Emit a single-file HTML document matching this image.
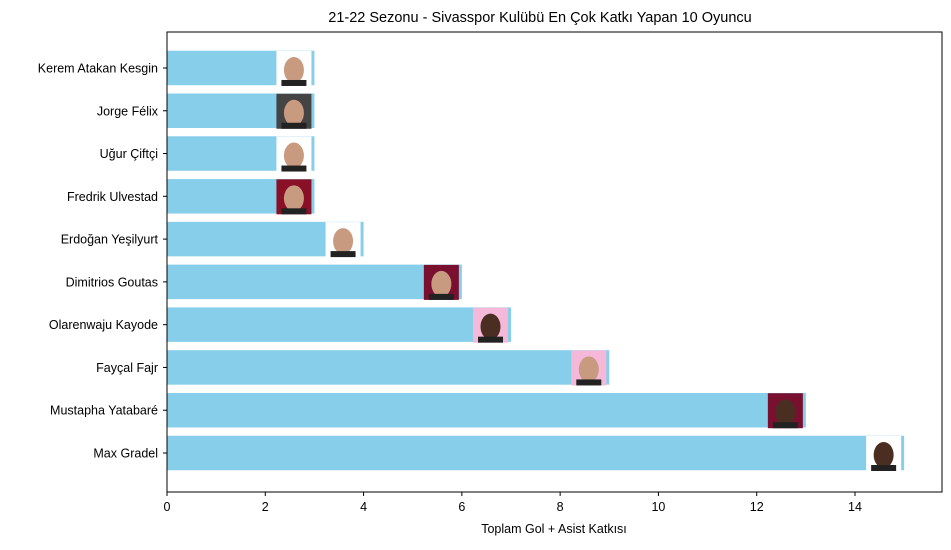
<!DOCTYPE html>
<html><head><meta charset="utf-8"><style>
body{margin:0;background:#fff;}
svg text{font-family:"Liberation Sans","DejaVu Sans",sans-serif;}
</style></head><body>
<svg id="chart" width="951" height="545" xmlns="http://www.w3.org/2000/svg">
<rect width="951" height="545" fill="#fff"/>
<text x="540" y="22" font-size="14.5" text-anchor="middle">21-22 Sezonu - Sivasspor Kulübü En Çok Katkı Yapan 10 Oyuncu</text>
<g id="bars"></g>
<rect x="167" y="32" width="775" height="460" fill="none" stroke="#000" stroke-width="1"/>
<g id="xaxis"></g>
<g id="yaxis"></g>
<text x="554" y="533" font-size="12.5" text-anchor="middle">Toplam Gol + Asist Katkısı</text>
</svg>
<script>
const players = ["Max Gradel","Mustapha Yatabaré","Fayçal Fajr","Olarenwaju Kayode","Dimitrios Goutas","Erdoğan Yeşilyurt","Fredrik Ulvestad","Uğur Çiftçi","Jorge Félix","Kerem Atakan Kesgin"];
const contributions = [15,13,9,7,6,4,3,3,3,3];
const photoBg = ["#fff","#7a1030","#f5b8d8","#f5b8d8","#7a1030","#fff","#8a1028","#fff","#444","#fff"];
const xTicks = [0,2,4,6,8,10,12,14];
const NS="http://www.w3.org/2000/svg";
const x0=167, pxPerUnit=(855-167)/14;
const xs=v=>x0+v*pxPerUnit;
const yc=i=>453-i*42.78;
const bh=34.5;
function el(t,a){const e=document.createElementNS(NS,t);for(const k in a)e.setAttribute(k,a[k]);return e;}
const bars=document.getElementById('bars'), xa=document.getElementById('xaxis'), ya=document.getElementById('yaxis');
players.forEach((p,i)=>{
  const r=el('rect',{x:x0,y:yc(i)-bh/2,width:xs(contributions[i])-x0,height:bh,fill:'#87ceeb'});
  
  
  bars.appendChild(r);
  const px=xs(contributions[i])-38;
  const g=el('g',{});
  
  
  g.appendChild(el('rect',{x:px,y:yc(i)-17,width:35,height:35,fill:photoBg[i]}));
  g.appendChild(el('ellipse',{cx:px+17.5,cy:yc(i)+2,rx:10,ry:13,fill:i==0||i==1||i==3?'#4a2e22':'#c89a80'}));
  g.appendChild(el('rect',{x:px+5,y:yc(i)+12,width:25,height:6,fill:'#222'}));
  bars.appendChild(g);
  const tk=el('line',{x1:x0-4,x2:x0,y1:yc(i),y2:yc(i),stroke:'#000'});
  
  
  ya.appendChild(tk);
  const t=el('text',{x:x0-9,y:yc(i)+4.5,'font-size':12.5,'text-anchor':'end'});
  t.textContent=p;
  
  
  ya.appendChild(t);
});
xTicks.forEach(v=>{
  const tk=el('line',{x1:xs(v),x2:xs(v),y1:492,y2:496,stroke:'#000'});
  
  
  xa.appendChild(tk);
  const t=el('text',{x:xs(v),y:511,'font-size':12.5,'text-anchor':'middle'});
  t.textContent=v;
  
  
  xa.appendChild(t);
});
</script>
</body></html>
